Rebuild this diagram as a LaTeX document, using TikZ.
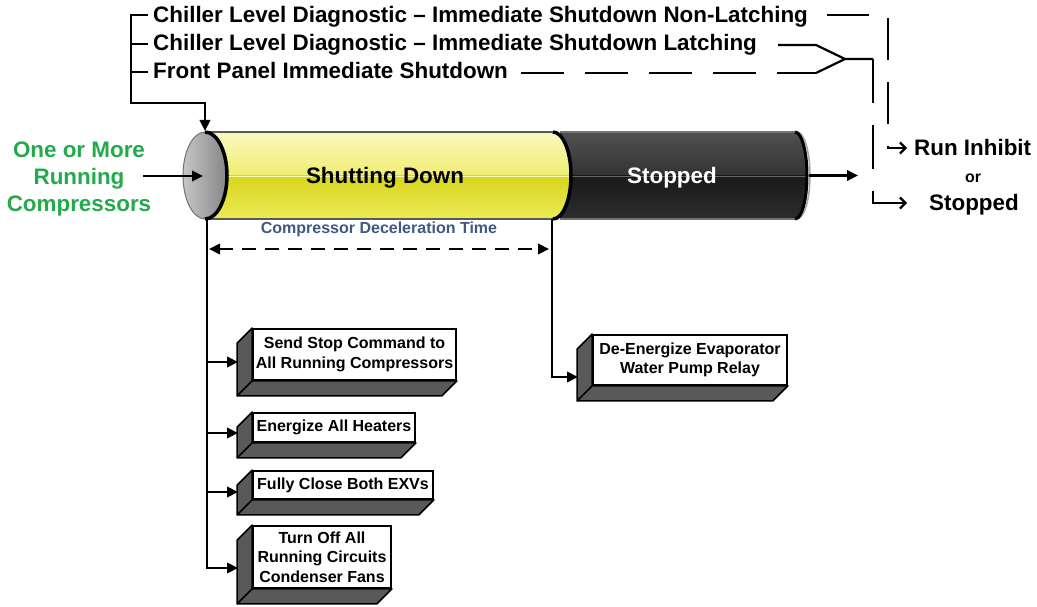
\documentclass[tikz,border=0pt]{standalone}
\usepackage{fontspec}
\setmainfont{Liberation Sans}
\usetikzlibrary{arrows.meta}
\definecolor{grn}{RGB}{35,170,75}
\definecolor{slate}{RGB}{62,88,130}
\definecolor{ylight}{RGB}{250,248,196}
\definecolor{ymid}{RGB}{240,238,112}
\definecolor{ydark}{RGB}{216,214,30}
\definecolor{ybot}{RGB}{236,235,88}
\newcommand\tdbox[5]{%
  \node[front, minimum width=#3, minimum height=#4] (#1) at (#2) {#5};
  \filldraw[side] (#1.north west) -- ([shift={(-15,15)}]#1.north west) -- ([shift={(-15,15)}]#1.south west) -- ([shift={(-15,15)}]#1.south east) -- (#1.south east) -- (#1.south west) -- cycle;
  \draw[side edge] (#1.south west) -- ([shift={(-15,15)}]#1.south west);
}
\begin{document}
\begin{tikzpicture}[x=1pt,y=-1pt,
  lbl/.style={font=\fontsize{22.4}{27}\selectfont\bfseries, inner sep=0pt},
  conn/.style={line width=2.2pt},
  arr/.style={-{Triangle[length=11pt,width=10.5pt]}},
  chev/.style={-{Straight Barb[length=5.5pt,width=11pt]}},
  front/.style={draw, line width=1.8pt, fill=white, align=center, inner sep=0pt,
    font=\fontsize{16}{19.5}\selectfont\bfseries},
  side/.style={fill=black!65, draw=black, line width=1.6pt, line join=round},
  side edge/.style={draw=black, line width=1.6pt}
]
\useasboundingbox (0,0) rectangle (1037,607);

% ---------- top labels ----------
\node[lbl, anchor=base west] (l1) at (153,22.7) {Chiller Level Diagnostic \textendash{} Immediate Shutdown Non-Latching};
\node[lbl, anchor=base west] (l2) at (153,51) {Chiller Level Diagnostic \textendash{} Immediate Shutdown Latching};
\node[lbl, anchor=base west] (l3) at (153,79) {Front Panel Immediate Shutdown};

% bracket on the left
\coordinate (t1) at (148,15);
\coordinate (t2) at (148,44);
\coordinate (t3) at (148,72);
\coordinate (brTop) at (131,15);
\coordinate (brBot) at (131,103);
\coordinate (faceTop) at (205,131);
\draw[conn] (t2) -- (t2 -| brTop);
\draw[conn] (t3) -- (t3 -| brTop);
\draw[conn, arr] (t1) -- (brTop) -- (brBot) -| (faceTop);

% ---------- cylinder ----------
% black (stopped) body
\begin{scope}
  \clip (560,132) -- (795,132) arc[start angle=-90,end angle=90,x radius=12,y radius=43.5] -- (560,219) -- cycle;
  \shade[top color=black!68, bottom color=black!80] (555,130) rectangle (812,176);
  \shade[top color=black!90, bottom color=black!82] (555,176) rectangle (812,221);
  \draw[black!60, line width=0.8pt] (555,176) -- (812,176);
\end{scope}
\draw[black!55, line width=1.2pt] (560,132) -- (795,132);
\draw[black!55, line width=1.2pt] (560,219) -- (795,219);
\draw[gray!70, line width=1.5pt] (797,132) arc[start angle=-90,end angle=90,x radius=13,y radius=43.5];
\draw[black, line width=3pt] (795,132) arc[start angle=-90,end angle=90,x radius=12,y radius=43.5];

% yellow (shutting down) body
\begin{scope}
  \clip (205,132) -- (553,132) arc[start angle=-90,end angle=90,x radius=18,y radius=43.5] -- (205,219) -- cycle;
  \shade[top color=ylight, bottom color=ymid] (200,130) rectangle (575,176);
  \shade[top color=ydark, bottom color=ybot] (200,176) rectangle (575,221);
  \draw[white!70!yellow, line width=0.8pt] (200,176) -- (575,176);
\end{scope}
\draw[black!65, line width=1.5pt] (205,132) -- (553,132);
\draw[black!65, line width=1.5pt] (205,219) -- (553,219);
\draw[black, line width=3.5pt] (553,132) arc[start angle=-90,end angle=90,x radius=18,y radius=43.5];

% left end face
\shade[left color=gray!45, right color=gray!95] (205,175.5) ellipse[x radius=22, y radius=43.5];
\draw[black!55, line width=1pt] (205,175.5) ellipse[x radius=22, y radius=43.5];
\draw[black, line width=3.5pt] (205,132) arc[start angle=-90,end angle=90,x radius=22,y radius=43.5];

\node[lbl, anchor=base] (shut) at (385,184) {Shutting Down};
\node[lbl, anchor=base, text=white] (stop) at (672,184) {Stopped};

% incoming
\node[lbl, text=grn, align=center] (src) at (79,179) {One or More\\Running\\Compressors};
\coordinate (srcOut) at (143,176);
\coordinate (faceMid) at (203,176);
\draw[conn, arr] (srcOut) -- (faceMid);

% outgoing
\coordinate (cylR) at (809,175.5);
\coordinate (outR) at (858,175.5);
\draw[conn, arr] (cylR) -- (outR);

% ---------- deceleration ----------
\node[font=\fontsize{16}{19}\selectfont\bfseries, text=slate, inner sep=1pt] (decel) at (379,229) {Compressor Deceleration Time};
\coordinate (dL) at (209,249);
\coordinate (dR) at (549,249);
\draw[conn, dash pattern=on 14pt off 9pt, {Triangle[length=11pt,width=10.5pt]}-{Triangle[length=11pt,width=10.5pt]}] (dL) -- (dR);

% ---------- boxes ----------
\tdbox{b1}{354.5,354.5}{203pt}{51pt}{Send Stop Command to\\All Running Compressors}
\tdbox{b2}{334,427.5}{162pt}{29pt}{Energize All Heaters}
\tdbox{b3}{343,485}{180pt}{28pt}{Fully Close Both EXVs}
\tdbox{b4}{322,557}{138pt}{62pt}{Turn Off All\\Running Circuits\\Condenser Fans}
\tdbox{b5}{690,360}{194pt}{50pt}{De-Energize Evaporator\\Water Pump Relay}

\coordinate (trL) at (207,219);
\coordinate (trR) at (552,219);
\coordinate (b1in) at (238,362);
\coordinate (b2in) at (238,433);
\coordinate (b3in) at (238,492);
\coordinate (b4in) at (238,568);
\coordinate (b5in) at (578,377);
\draw[conn, arr] (trL) |- (b1in);
\draw[conn, arr] (trL) |- (b2in);
\draw[conn, arr] (trL) |- (b3in);
\draw[conn, arr] (trL) |- (b4in);
\draw[conn, arr] (trR) |- (b5in);

% ---------- right side routing ----------
\node[lbl, anchor=base west] (ri) at (914,156) {Run Inhibit};
\node[font=\fontsize{16}{19}\selectfont\bfseries, inner sep=0pt] (orr) at (973,178) {or};
\node[lbl, anchor=base west] (st) at (929,211) {Stopped};

\coordinate (nlA) at (827,15);
\coordinate (nlB) at (888,15);
\coordinate (riIn) at (907,148);
\draw[conn, dash pattern=on 42pt off 22pt, chev] (nlA) -- (nlB) |- (riIn);

\coordinate (laA) at (778,45);
\coordinate (laB) at (816,45);
\coordinate (fpA) at (521,73);
\coordinate (fpB) at (816,73);
\coordinate (mg) at (845,59);
\coordinate (mgB) at (873,59);
\coordinate (stIn) at (907,203);
\draw[conn] (laA) -- (laB) -- (mg);
\draw[conn, dash pattern=on 43pt off 21pt] (fpA) -- (fpB);
\draw[conn] (fpB) -- (mg) -- (mgB);
\draw[conn, dash pattern=on 44pt off 22pt, chev] (mgB) |- (stIn);
\end{tikzpicture}
\end{document}
